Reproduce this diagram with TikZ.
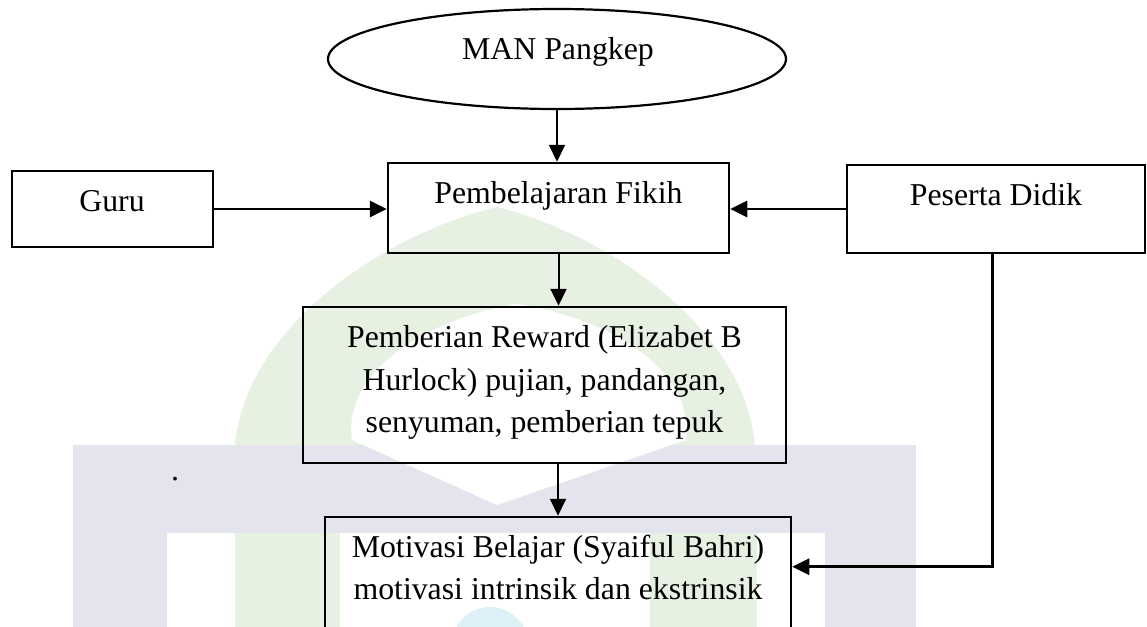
\documentclass[tikz,border=0pt]{standalone}
\usepackage{fontspec}
\setmainfont{Liberation Serif}
\usetikzlibrary{arrows.meta,shapes.geometric,calc}
\definecolor{wmgreen}{RGB}{230,241,226}
\definecolor{wmlav}{RGB}{228,228,238}
\definecolor{wmblue}{RGB}{221,240,248}
\newcommand{\mlines}[1]{\begin{tabular}[t]{@{}c@{}}#1\end{tabular}}
\begin{document}
\begin{tikzpicture}[x=0.5pt,y=-0.5pt,
  box/.style={draw,line width=1.25pt,rectangle,inner sep=0pt},
  oval/.style={draw,line width=1.1pt,ellipse,inner sep=0pt},
  txt/.style={inner sep=0pt,anchor=base,font=\fontsize{15.9pt}{21.25pt}\selectfont},
  arr/.style={line width=1.4pt,-{Triangle[length=8.5pt,width=8pt]}},
  varr/.style={line width=1pt,-{Triangle[length=8.5pt,width=8pt]}}]
\useasboundingbox (0,0) rectangle (1147,627);
\clip (0,0) rectangle (1147,627);
% faint watermark
\fill[wmlav] (73,445) rectangle (916,660);
\fill[white] (167,533) rectangle (825,660);
\fill[wmgreen] (235,445) .. controls (245,330) and (380,235) .. (497,207)
  .. controls (610,235) and (745,330) .. (755,445) -- cycle;
\fill[white] (497,505) -- (352,440) .. controls (342,370) and (430,318) .. (517,304)
  .. controls (610,318) and (695,370) .. (686,440) -- cycle;
\fill[wmgreen] (235,533) rectangle (340,660);
\fill[wmgreen] (650,533) rectangle (757,660);
\fill[wmblue] (490,645) circle[radius=38];
% boxes
\node[oval,minimum width=229pt,minimum height=50pt] (man) at (557,59) {};
\node[box,minimum width=170.5pt,minimum height=45pt] (pf) at (558.5,208) {};
\node[box,minimum width=100.5pt,minimum height=38pt] (guru) at (112.5,209) {};
\node[box,minimum width=149pt,minimum height=44pt] (pd) at (996,209) {};
\node[box,minimum width=241.5pt,minimum height=78pt] (rw) at (544.5,385) {};
\node[box,minimum width=233pt,minimum height=91.5pt] (mv) at (558,608.5) {};
% texts
\node[txt] (tman) at (558,59) {MAN Pangkep};
\node[txt] (tpf) at (558.5,203) {Pembelajaran Fikih};
\node[txt] (tguru) at (112,211) {Guru};
\node[txt] (tpd) at (996,205) {Peserta Didik};
\node[txt] (trw) at (544.5,347.5) {\mlines{Pemberian Reward (Elizabet B\\Hurlock) pujian, pandangan,\\senyuman, pemberian tepuk}};
\node[txt] (tmv) at (558,557) {\mlines{Motivasi Belajar (Syaiful Bahri)\\motivasi intrinsik dan ekstrinsik}};
\node[txt] (dot) at (175,480) {.};
% connectors
\coordinate (pdout) at ($(pd.south)+(-3.5,0)$);
\coordinate (mvin) at ($(mv.north east)+(0,51)$);
\draw[varr] (man.south) -- (man.south |- pf.north);
\draw[arr] (guru.east) -- (guru.east -| pf.west);
\draw[arr] (pd.west) -- (pd.west -| pf.east);
\draw[varr] (pf.south) -- (pf.south |- rw.north);
\draw[varr] (mv.north |- rw.south) -- (mv.north);
\draw[arr] (pdout) |- (mvin);
\end{tikzpicture}
\end{document}
